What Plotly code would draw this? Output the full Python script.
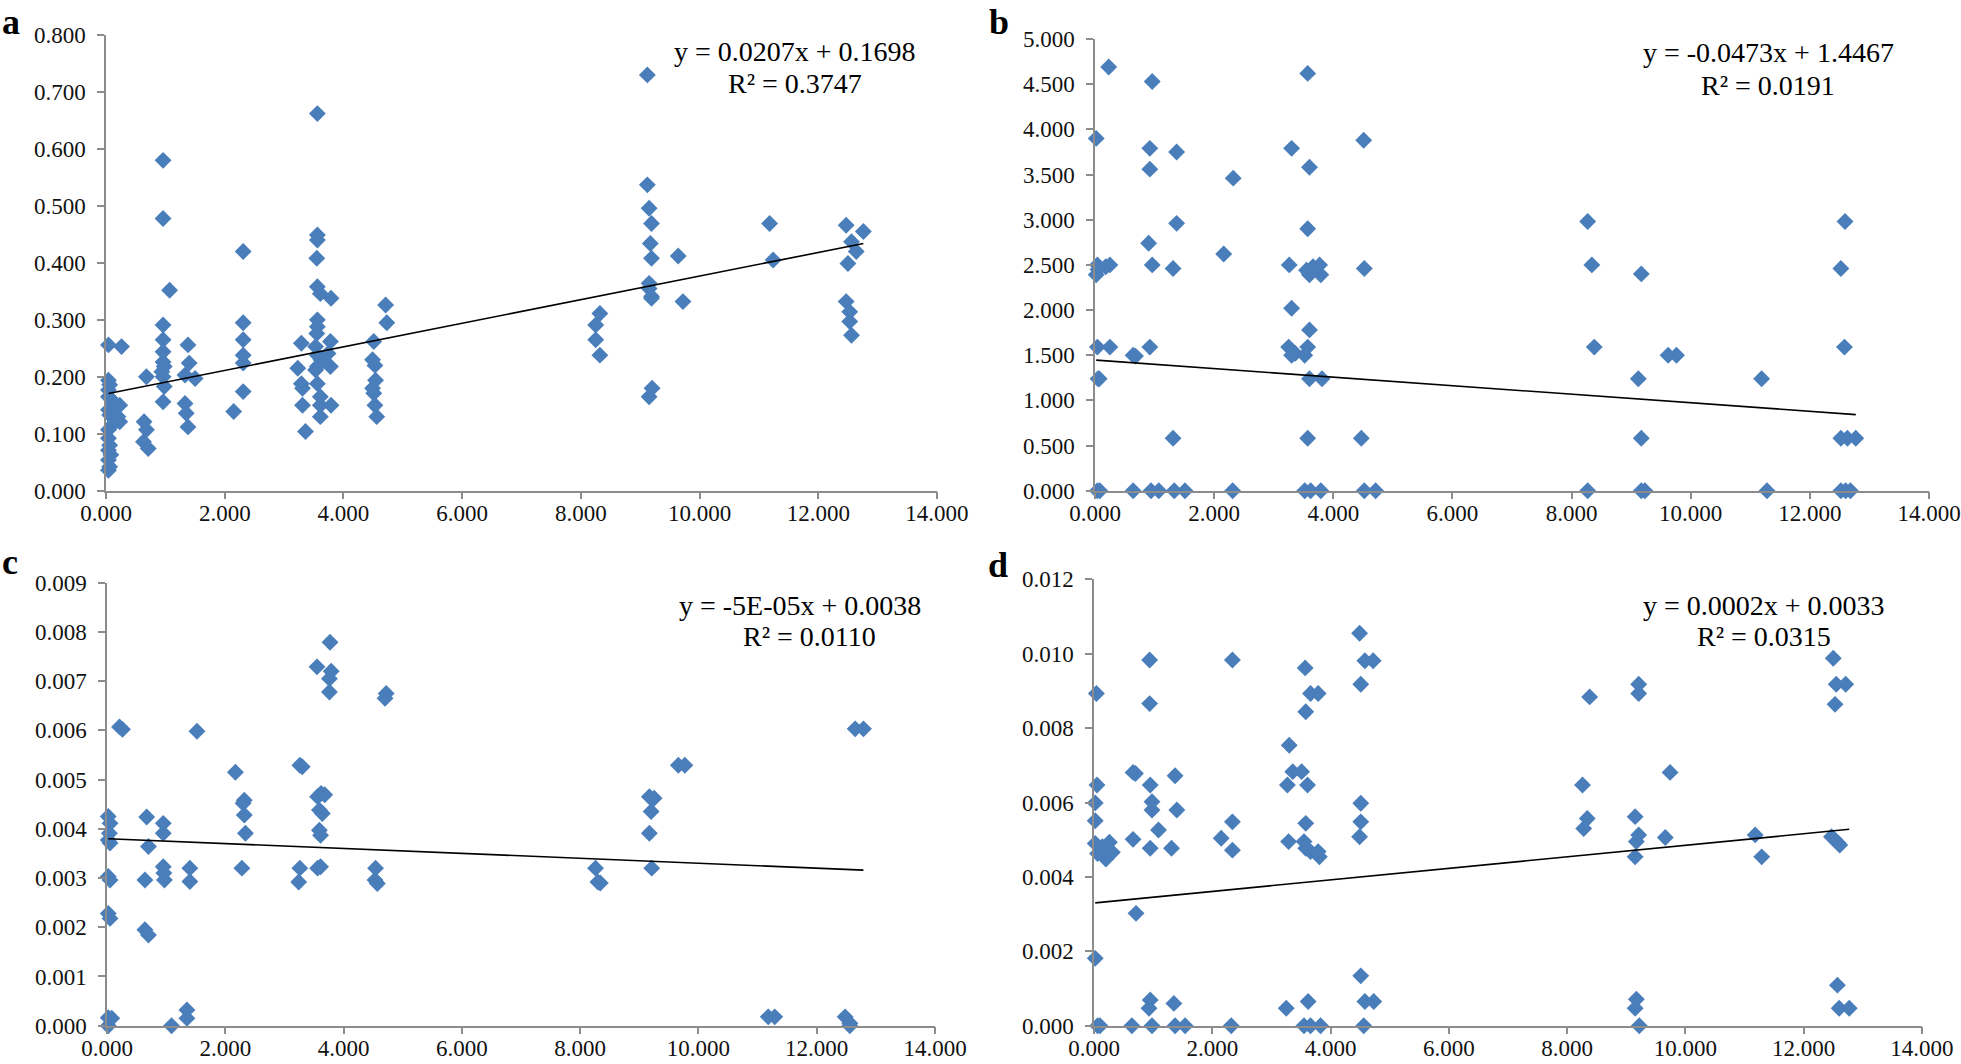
import plotly.graph_objects as go

# ---- data ----
a_x = [0.04, 0.26, 0.04, 0.06, 0.04, 0.04, 0.10, 0.23, 0.04, 0.06, 0.20, 0.23, 0.10, 0.04, 0.04, 0.06, 0.04, 0.08, 0.04, 0.06, 0.04,
       0.68, 0.64, 0.68, 0.63, 0.71,
       0.96, 0.96, 1.07, 0.96, 0.96, 0.96, 0.96, 0.98, 0.94, 0.96, 0.98, 0.96,
       1.38, 1.40, 1.33, 1.50, 1.33, 1.35, 1.38,
       2.15, 2.31, 2.31, 2.31, 2.31, 2.31, 2.31,
       3.29, 3.23, 3.29, 3.31, 3.31, 3.36,
       3.56, 3.56, 3.56, 3.55, 3.56, 3.61, 3.56, 3.56, 3.55, 3.53, 3.56, 3.62, 3.56, 3.53, 3.56, 3.61, 3.61, 3.61,
       3.79, 3.78, 3.74, 3.78, 3.79,
       4.51, 4.49, 4.53, 4.54, 4.49, 4.51, 4.53, 4.56, 4.71, 4.73,
       8.25, 8.32, 8.25, 8.32,
       9.12, 9.12, 9.15, 9.19, 9.17, 9.19, 9.15, 9.15, 9.19, 9.19, 9.15, 9.20,
       9.64, 9.72, 11.18, 11.24,
       12.47, 12.76, 12.56, 12.64, 12.50, 12.47, 12.53, 12.53, 12.56]
a_y = [0.256, 0.253, 0.194, 0.186, 0.177, 0.165, 0.159, 0.150, 0.142, 0.133, 0.130, 0.121, 0.115, 0.107, 0.092, 0.080, 0.071, 0.063, 0.054, 0.042, 0.036,
       0.200, 0.121, 0.107, 0.086, 0.074,
       0.580, 0.478, 0.352, 0.291, 0.265, 0.244, 0.226, 0.218, 0.209, 0.200, 0.183, 0.156,
       0.256, 0.224, 0.203, 0.197, 0.153, 0.136, 0.112,
       0.139, 0.420, 0.295, 0.265, 0.238, 0.224, 0.174,
       0.259, 0.215, 0.188, 0.180, 0.150, 0.104,
       0.662, 0.449, 0.440, 0.408, 0.358, 0.346, 0.300, 0.288, 0.276, 0.253, 0.238, 0.230, 0.218, 0.212, 0.188, 0.165, 0.150, 0.130,
       0.338, 0.262, 0.241, 0.218, 0.150,
       0.262, 0.230, 0.220, 0.194, 0.180, 0.171, 0.150, 0.130, 0.326, 0.295,
       0.291, 0.311, 0.265, 0.238,
       0.730, 0.537, 0.496, 0.469, 0.434, 0.408, 0.364, 0.355, 0.341, 0.338, 0.165, 0.180,
       0.412, 0.332, 0.469, 0.405,
       0.466, 0.455, 0.437, 0.420, 0.399, 0.332, 0.314, 0.297, 0.273]

b_x = [0.02, 0.23, 0.04, 0.02, 0.05, 0.25, 0.18, 0.04, 0.25, 0.05, 0.07, 0.04, 0.08,
       0.64, 0.68, 0.64,
       0.92, 0.96, 0.92, 0.92, 0.90, 0.96, 0.94, 1.07,
       1.37, 1.37, 1.31, 1.31, 1.33, 1.51,
       2.16, 2.32, 2.31,
       3.30, 3.26, 3.30, 3.25, 3.30, 3.36, 3.52,
       3.57, 3.60, 3.57, 3.60, 3.57, 3.60, 3.55, 3.66, 3.77, 3.79, 3.60, 3.57, 3.52, 3.62, 3.79, 3.81,
       4.51, 4.52, 4.47, 4.52, 4.71,
       8.27, 8.34, 8.38, 8.27,
       9.17, 9.12, 9.17, 9.17, 9.23, 9.62, 9.76,
       11.19, 11.28,
       12.59, 12.52, 12.58, 12.52, 12.63, 12.77, 12.52, 12.60, 12.68]
b_y = [3.90, 4.69, 2.50, 2.39, 2.45, 2.50, 2.48, 1.59, 1.59, 1.24, 1.24, 0.0, 0.0,
       1.50, 1.49, 0.0,
       1.59, 4.53, 3.79, 3.56, 2.74, 2.50, 0.0, 0.0,
       3.75, 2.96, 2.46, 0.58, 0.0, 0.0,
       2.62, 3.46, 0.0,
       3.79, 2.50, 2.02, 1.59, 1.50, 1.52, 1.50,
       4.62, 3.58, 2.90, 1.78, 1.59, 1.24, 2.44, 2.48, 2.50, 2.39, 2.39, 0.58, 0.0, 0.0, 0.0, 1.24,
       3.88, 2.46, 0.58, 0.0, 0.0,
       2.98, 2.50, 1.59, 0.0,
       2.40, 1.24, 0.58, 0.0, 0.0, 1.50, 1.50,
       1.24, 0.0,
       2.98, 2.46, 1.59, 0.58, 0.58, 0.58, 0.0, 0.0, 0.0]

c_x = [0.02, 0.05, 0.04, 0.02, 0.05, 0.02, 0.05, 0.02, 0.05, 0.02, 0.08, 0.02,
       0.21, 0.26,
       0.67, 0.70, 0.64, 0.64, 0.70,
       0.95, 0.95, 0.95, 0.96, 0.97,
       1.09, 1.35, 1.35, 1.40, 1.40, 1.52,
       2.17, 2.32, 2.30, 2.32, 2.34, 2.28,
       3.26, 3.30, 3.24, 3.26,
       3.55, 3.77, 3.79, 3.76, 3.76,
       3.56, 3.62, 3.68, 3.59, 3.64, 3.59, 3.61, 3.56, 3.61,
       4.72, 4.70, 4.54, 4.57, 4.53,
       8.26, 8.30, 8.34,
       9.17, 9.25, 9.20, 9.17, 9.21, 9.66, 9.77,
       11.18, 11.29, 12.65, 12.79, 12.48, 12.56, 12.56]
c_y = [0.00425, 0.00411, 0.00391, 0.00377, 0.00371, 0.00303, 0.00296, 0.00228, 0.00218, 0.00016, 0.00015, 0.0,
       0.00607, 0.00602,
       0.00424, 0.00364, 0.00296, 0.00195, 0.00184,
       0.00411, 0.00391, 0.00323, 0.00310, 0.00296,
       0.0, 0.00032, 0.00015, 0.00320, 0.00293, 0.00598,
       0.00515, 0.00458, 0.00452, 0.00428, 0.00391, 0.00320,
       0.00529, 0.00526, 0.00292, 0.00320,
       0.00729, 0.00779, 0.00720, 0.00705, 0.00678,
       0.00465, 0.00472, 0.00469, 0.00438, 0.00431, 0.00397, 0.00387, 0.00320, 0.00323,
       0.00675, 0.00665, 0.00320, 0.00289, 0.00296,
       0.00320, 0.00292, 0.00290,
       0.00465, 0.00462, 0.00435, 0.00391, 0.00320, 0.00529, 0.00529,
       0.00018, 0.00018, 0.00603, 0.00603, 0.00018, 0.00005, 0.0]

d_x = [0.04, 0.05, 0.02, 0.02, 0.02, 0.14, 0.26, 0.31, 0.20, 0.06, 0.02, 0.06, 0.10,
       0.66, 0.70, 0.66, 0.71, 0.64,
       0.94, 0.94, 0.95, 0.98, 0.98, 1.09, 0.95, 0.95, 0.93, 0.98,
       1.37, 1.40, 1.31, 1.35, 1.37, 1.54,
       2.15, 2.34, 2.34, 2.34, 2.32,
       3.30, 3.27, 3.36, 3.51, 3.29, 3.25,
       3.57, 3.58, 3.66, 3.79, 3.61, 3.58, 3.55, 3.58, 3.66, 3.79, 3.81, 3.62, 3.55, 3.66, 3.83,
       4.49, 4.58, 4.72, 4.51, 4.51, 4.51, 4.49, 4.51, 4.58, 4.73, 4.56,
       8.26, 8.38, 8.34, 8.28,
       9.21, 9.21, 9.15, 9.21, 9.17, 9.15, 9.17, 9.15, 9.22,
       9.66, 9.74, 11.18, 11.29,
       12.50, 12.55, 12.71, 12.53, 12.47, 12.53, 12.58, 12.61, 12.57, 12.60, 12.77]
d_y = [0.00893, 0.00647, 0.00599, 0.00551, 0.00490, 0.00481, 0.00493, 0.00466, 0.00448, 0.00463, 0.00181, 0.0, 0.0,
       0.00681, 0.00678, 0.00501, 0.00302, 0.0,
       0.00983, 0.00866, 0.00647, 0.00602, 0.00580, 0.00526, 0.00477, 0.00069, 0.00047, 0.0,
       0.00672, 0.00580, 0.00477, 0.00060, 0.0, 0.0,
       0.00504, 0.00983, 0.00548, 0.00472, 0.0,
       0.00754, 0.00647, 0.00683, 0.00683, 0.00495, 0.00047,
       0.00962, 0.00844, 0.00893, 0.00893, 0.00647, 0.00544, 0.00495, 0.00477, 0.00468, 0.00468, 0.00454, 0.00065, 0.0, 0.0, 0.0,
       0.01055, 0.00981, 0.00981, 0.00918, 0.00598, 0.00548, 0.00508, 0.00134, 0.00065, 0.00065, 0.0,
       0.00647, 0.00884, 0.00557, 0.00530,
       0.00918, 0.00893, 0.00562, 0.00513, 0.00495, 0.00454, 0.00071, 0.00047, 0.0,
       0.00506, 0.00681, 0.00513, 0.00454,
       0.00988, 0.00918, 0.00918, 0.00864, 0.00508, 0.00499, 0.00491, 0.00486, 0.00109, 0.00047, 0.00047]

# trend lines (slope, intercept) as drawn in the figure
fit_a = (0.0207, 0.1698)
fit_b = (-0.0473, 1.4467)
fit_c = (-0.00005, 0.0038)
fit_d = (0.000155, 0.0033)

eq_a = ["y = 0.0207x + 0.1698", "R² = 0.3747"]
eq_b = ["y = -0.0473x + 1.4467", "R² = 0.0191"]
eq_c = ["y = -5E-05x + 0.0038", "R² = 0.0110"]
eq_d = ["y = 0.0002x + 0.0033", "R² = 0.0315"]

x_ticks = [0, 2, 4, 6, 8, 10, 12, 14]

SERIF = "Liberation Serif, Times New Roman, serif"
BLUE = "#4a7ebb"
AXIS = "#8c8c8c"

fig = go.Figure()

panels = [
    (a_x, a_y, fit_a, "x", "y"),
    (b_x, b_y, fit_b, "x2", "y2"),
    (c_x, c_y, fit_c, "x3", "y3"),
    (d_x, d_y, fit_d, "x4", "y4"),
]
for px_, py_, fit, xa, ya in panels:
    fig.add_trace(go.Scatter(x=px_, y=py_, mode="markers", xaxis=xa, yaxis=ya,
                             marker=dict(symbol="diamond", size=13, color=BLUE, line=dict(width=0)),
                             cliponaxis=False, showlegend=False))
    x0, x1 = min(px_), max(px_)
    fig.add_trace(go.Scatter(x=[x0, x1], y=[fit[0] * x0 + fit[1], fit[0] * x1 + fit[1]],
                             mode="lines", xaxis=xa, yaxis=ya,
                             line=dict(color="black", width=1.6), showlegend=False))

# axis domains (paper fractions) and y ranges
axes = {
    "": dict(xd=[0.0541, 0.4778], yd=[0.5388, 0.9671], yr=[0, 0.8], dt=0.1),
    "2": dict(xd=[0.5584, 0.9837], yd=[0.5388, 0.9633], yr=[0, 5], dt=0.5),
    "3": dict(xd=[0.0546, 0.4768], yd=[0.0360, 0.4524], yr=[0, 0.009], dt=0.001),
    "4": dict(xd=[0.5579, 0.9801], yd=[0.0360, 0.4555], yr=[0, 0.012], dt=0.002),
}
common = dict(showgrid=False, zeroline=False, showline=True, linecolor=AXIS, linewidth=1.5,
              ticks="outside", ticklen=7, tickwidth=1.5, tickcolor=AXIS, automargin=False,
              tickfont=dict(family=SERIF, size=23, color="#111111"), tickformat=".3f")
lay = {}
for k, v in axes.items():
    lay["xaxis" + k] = dict(common, domain=v["xd"], range=[0, 14], tickvals=x_ticks,
                            anchor="y" + k, ticklabelstandoff=-6)
    lay["yaxis" + k] = dict(common, domain=v["yd"], range=v["yr"], dtick=v["dt"], tick0=0,
                            anchor="x" + k, ticklabelstandoff=7)
fig.update_layout(**lay)

ann = []
def text(x, y, s, size=28, bold=False, anchor="middle"):
    ann.append(dict(x=x / 1961, y=1 - y / 1064, xref="paper", yref="paper", text=("<b>%s</b>" % s) if bold else s,
                    showarrow=False, xanchor="center", yanchor=anchor,
                    font=dict(family=SERIF, size=size, color="black")))

text(795, 51, eq_a[0]); text(795, 83, eq_a[1])
text(1768, 52, eq_b[0]); text(1768, 85, eq_b[1])
text(800, 605, eq_c[0]); text(809, 636, eq_c[1])
text(1764, 605, eq_d[0]); text(1764, 636, eq_d[1])
text(11, 0, "a", size=36, bold=True, anchor="top")
text(999, 0, "b", size=36, bold=True, anchor="top")
text(10, 540, "c", size=36, bold=True, anchor="top")
text(998, 543, "d", size=36, bold=True, anchor="top")

fig.update_layout(annotations=ann, width=1961, height=1064,
                  margin=dict(l=0, r=0, t=0, b=0),
                  paper_bgcolor="white", plot_bgcolor="white", template="none")

fig.write_html("out.html", config={"displayModeBar": False},
               post_script="document.body.style.margin='0';")
